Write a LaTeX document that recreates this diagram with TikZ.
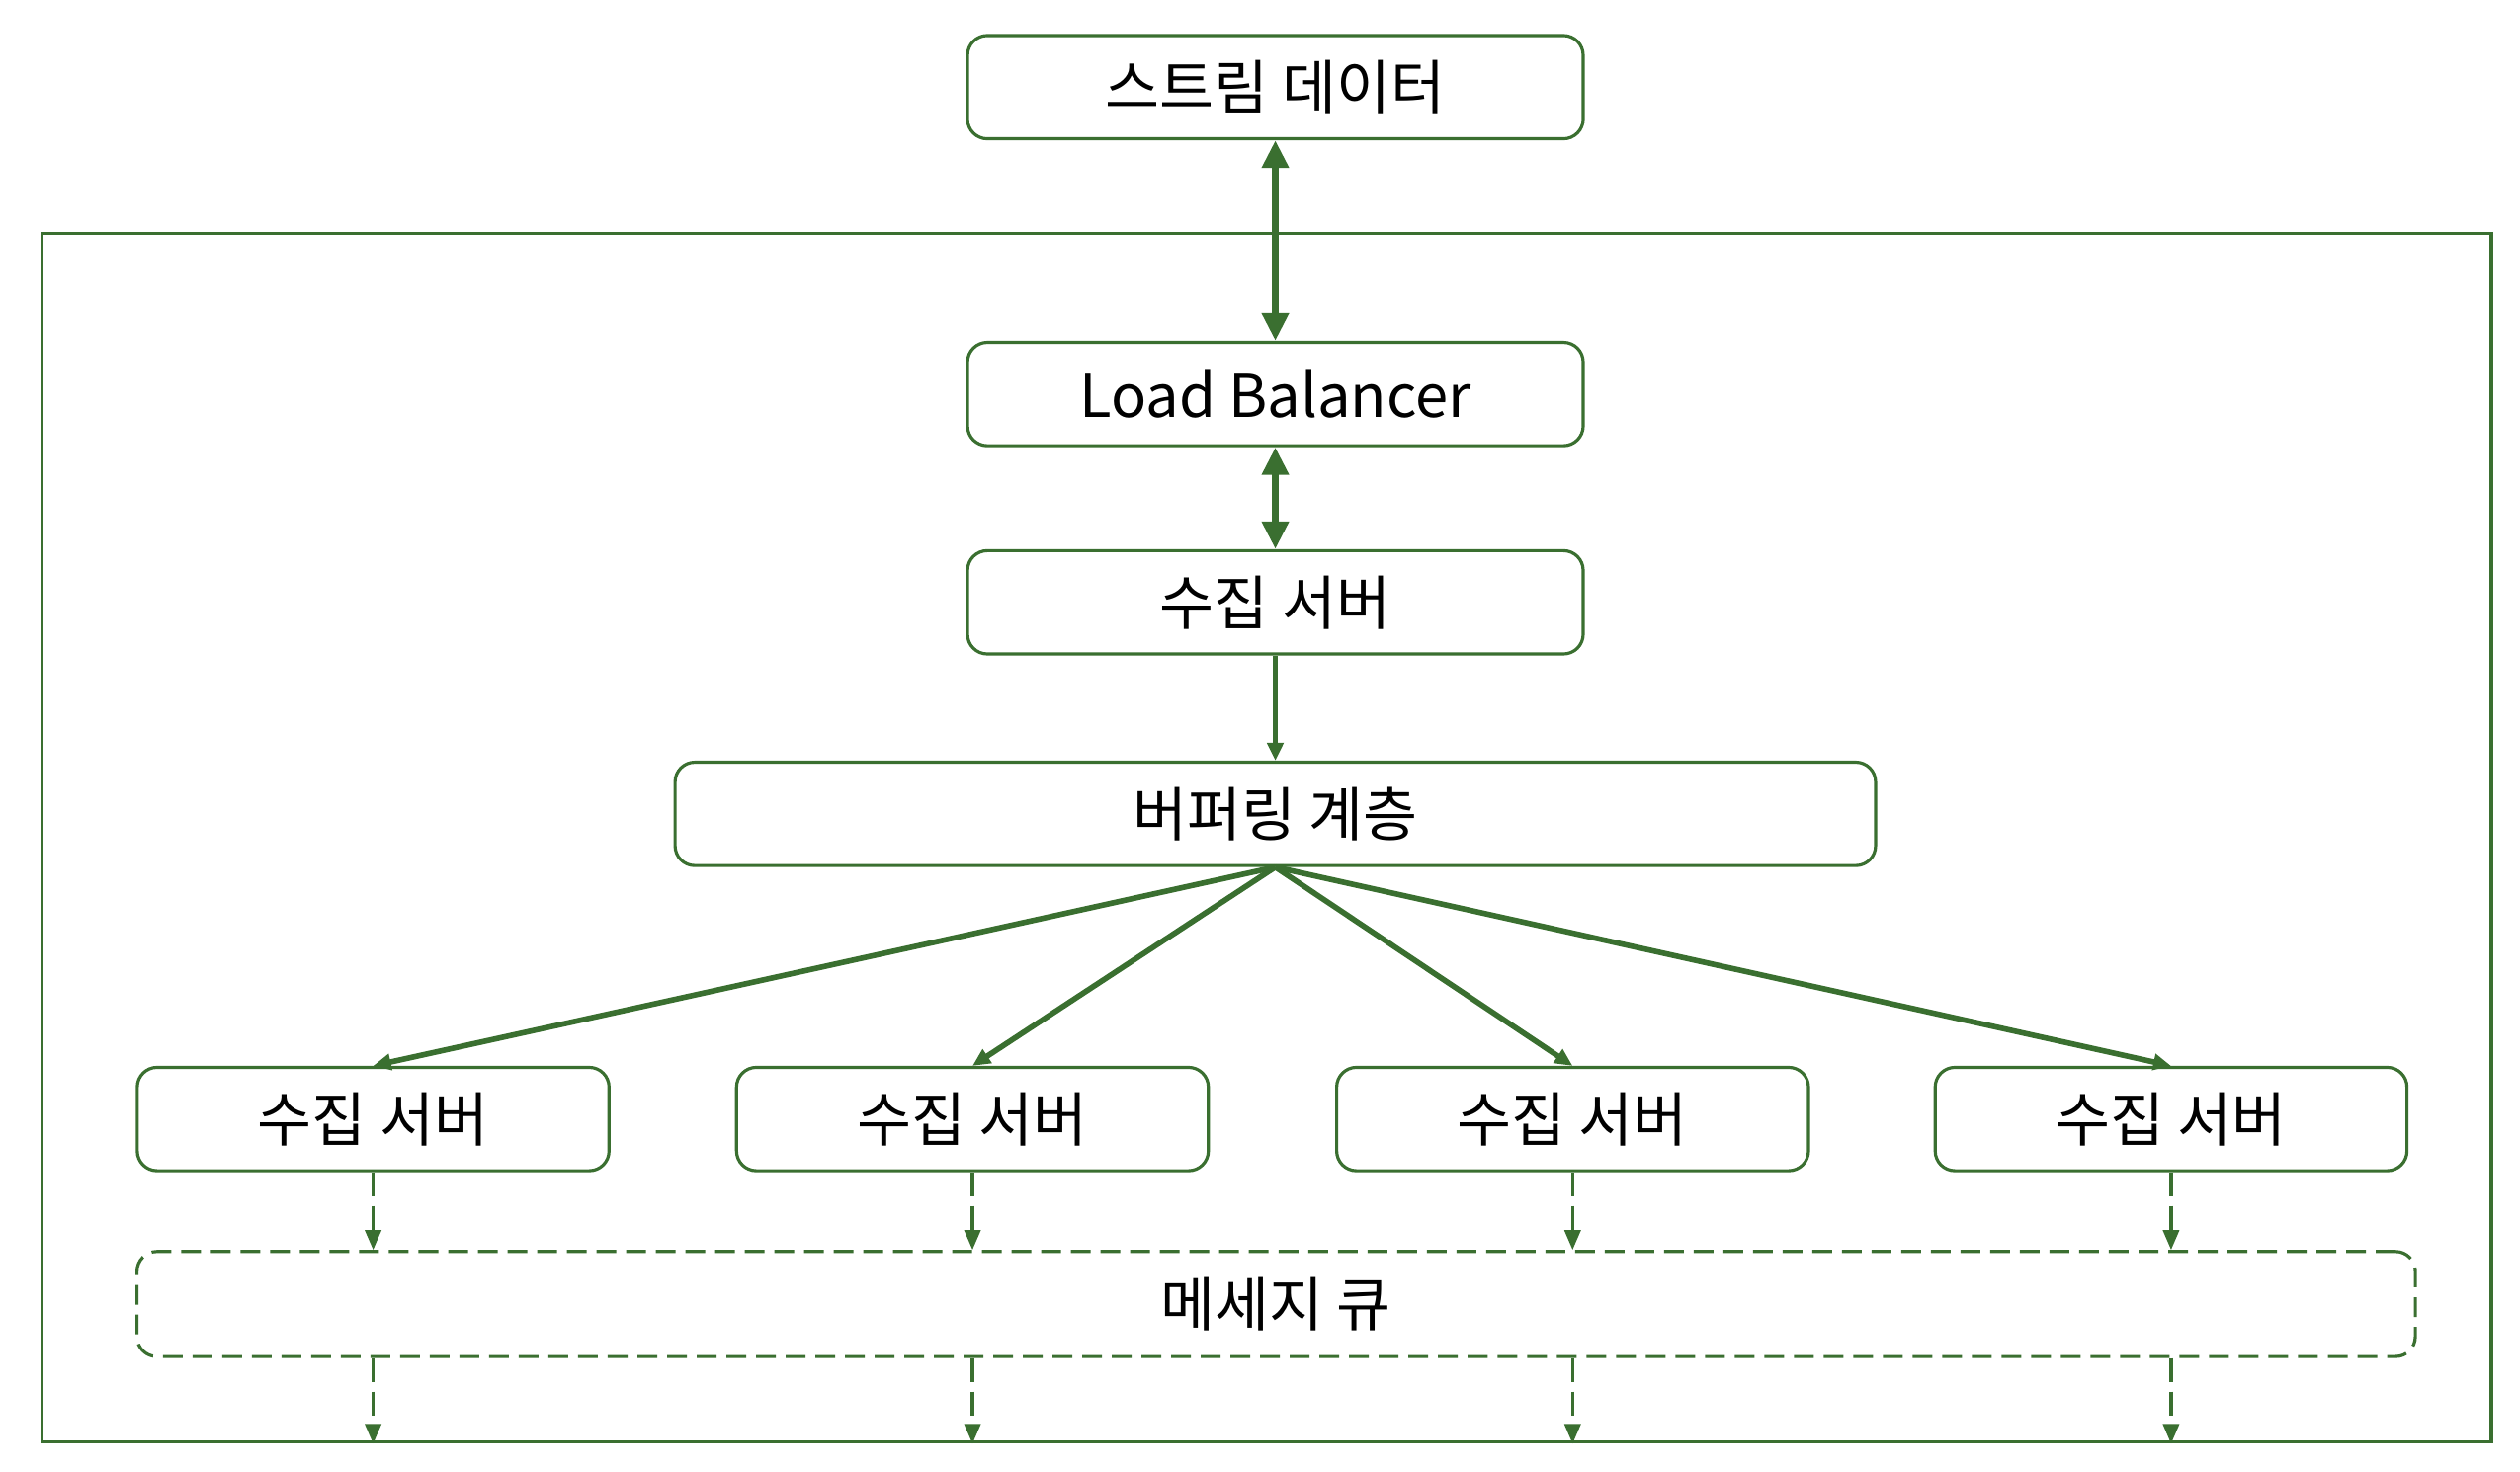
\documentclass[tikz,border=0pt]{standalone}
\usepackage{fontspec}
\setmainfont{Noto Sans CJK KR}
\usepackage{tikz}
\usetikzlibrary{arrows.meta}
\definecolor{leaf}{HTML}{3A6F30}

\begin{document}
\begin{tikzpicture}[x=0.016346cm, y=-0.016346cm,
    box/.style={draw=leaf, line width=0.9pt, rounded corners=0.2cm, fill=white,
      minimum height=1.046cm, inner sep=0pt, font=\fontsize{17}{21}\selectfont},
    bigarrow/.style={leaf, line width=2.2pt, {Triangle[width=0.26cm,length=0.28cm]}-{Triangle[width=0.26cm,length=0.28cm]}},
    thinarrow/.style={leaf, line width=1.4pt, -{Triangle[width=0.16cm,length=0.18cm]}},
    fanarrow/.style={leaf, line width=1.6pt, -{Triangle[width=0.16cm,length=0.18cm]}},
    dasharrow/.style={leaf, line width=1pt, dash pattern=on 0.24cm off 0.1cm, -{Triangle[width=0.16cm,length=0.2cm]}}]
    \useasboundingbox (0,0) rectangle (1560,911.5);

    % Draw the outer frame
    \node[draw=leaf, line width=0.9pt, minimum width=24.781cm, minimum height=12.227cm, inner sep=0pt] (frame) at (784,519) {};

    % Draw the top chain of boxes
    \node[box, minimum width=6.228cm] (stream) at (789.5,54) {스트림 데이터};
    \node[box, minimum width=6.228cm] (lb) at (789.5,244) {Load Balancer};
    \node[box, minimum width=6.228cm] (collect) at (789.5,373) {수집 서버};
    \node[box, minimum width=12.145cm] (buffer) at (789.5,504) {버퍼링 계층};

    % Draw the collecting servers
    \node[box, minimum width=4.773cm] (srvA) at (231,693) {수집 서버};
    \node[box, minimum width=4.773cm] (srvB) at (602,693) {수집 서버};
    \node[box, minimum width=4.773cm] (srvC) at (973.5,693) {수집 서버};
    \node[box, minimum width=4.773cm] (srvD) at (1344,693) {수집 서버};

    % Draw the message queue
    \node[box, dash pattern=on 0.2cm off 0.1cm, minimum width=23.048cm, minimum height=1.0625cm] (queue) at (790,807.5) {메세지 큐};

    % Draw the arrows between the top boxes
    \draw[bigarrow] (stream.south) -- (lb.north);
    \draw[bigarrow] (lb.south) -- (collect.north);
    \draw[thinarrow] (collect.south) -- (buffer.north);

    % Draw the arrows from the buffer to the servers
    \draw[fanarrow] (buffer.south) -- (srvA.north);
    \draw[fanarrow] (buffer.south) -- (srvB.north);
    \draw[fanarrow] (buffer.south) -- (srvC.north);
    \draw[fanarrow] (buffer.south) -- (srvD.north);

    % Draw the dashed arrows into and out of the queue
    \foreach \s in {srvA,srvB,srvC,srvD}{
      \draw[dasharrow] (\s.south) -- (\s.south |- queue.north);
      \draw[dasharrow] (\s.south |- queue.south) -- (\s.south |- frame.south);
    }
\end{tikzpicture}
\end{document}
